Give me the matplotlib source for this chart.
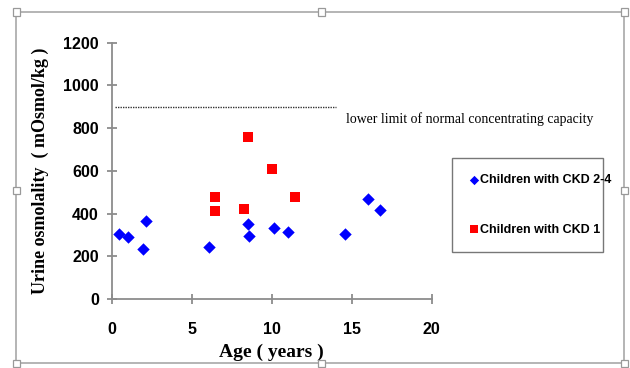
import matplotlib
matplotlib.use("Agg")
import matplotlib.pyplot as plt
from matplotlib.patches import Rectangle

# dati
eta_ckd24 = [0.4, 1.0, 1.95, 2.1, 6.05, 8.5, 8.6, 10.15, 11.0, 14.6, 16.05, 16.8]
osm_ckd24 = [303, 290, 234, 367, 241, 353, 293, 334, 315, 304, 469, 416]
eta_ckd1 = [6.45, 6.45, 8.25, 8.5, 10.0, 11.45]
osm_ckd1 = [475, 413, 422, 759, 606, 475]
limite_normale = 900
limite_x = [0.2, 14.0]
xticks = [0, 5, 10, 15, 20]
yticks = [0, 200, 400, 600, 800, 1000, 1200]

sans = "Liberation Sans"
serif = "Liberation Serif"
grigio = "#8c8c8c"

fig = plt.figure(figsize=(6.3, 3.68), dpi=100)
ax = fig.add_axes([0.178, 0.1875, 0.507, 0.697])

ax.scatter(eta_ckd24, osm_ckd24, marker="D", s=40, color="#0000ff", zorder=3,
           label="Children with CKD 2-4", clip_on=False, linewidths=0)
ax.scatter(eta_ckd1, osm_ckd1, marker="s", s=60, color="#ff0000", zorder=3,
           label="Children with CKD 1", clip_on=False, linewidths=0)

ax.plot(limite_x, [limite_normale] * 2, color="#333333", lw=1.0, linestyle=(0, (1, 0.8)))
ax.text(14.65, 843, "lower limit of normal concentrating capacity", family=serif,
        fontsize=9.9, va="center", ha="left", clip_on=False)

ax.set_xlim(0, 20)
ax.set_ylim(0, 1200)
ax.set_xticks(xticks)
ax.set_yticks(yticks)
for s in ["top", "right"]:
    ax.spines[s].set_visible(False)
for s in ["left", "bottom"]:
    ax.spines[s].set_color(grigio)
    ax.spines[s].set_linewidth(1.3)
ax.tick_params(direction="inout", length=7, width=1.3, color=grigio)
ax.tick_params(axis="x", pad=13)
ax.tick_params(axis="y", pad=6)
for lab in ax.get_xticklabels() + ax.get_yticklabels():
    lab.set_fontfamily(sans)
    lab.set_fontweight("bold")
    lab.set_fontsize(11.5)

ax.set_xlabel("Age ( years )", family=serif, fontweight="bold", fontsize=14, labelpad=5)
ax.set_ylabel("Urine osmolality  ( mOsmol/kg )", family=serif, fontweight="bold",
              fontsize=13, labelpad=10)

leg = ax.legend(loc="upper left", bbox_to_anchor=(452 / 630, 1 - 158 / 368, 151 / 630, 0),
                bbox_transform=fig.transFigure, mode="expand", frameon=True,
                fancybox=False, edgecolor="#555555", handletextpad=0.05,
                handlelength=0.9, labelspacing=3.0, borderpad=1.3, borderaxespad=0,
                markerscale=0.75, prop={"family": sans, "weight": "bold", "size": 9})
leg.get_frame().set_linewidth(1.0)

# cornice dell'immagine con le maniglie
x0, x1, y0, y1 = 16, 624, 12, 363
fig.patches.append(Rectangle((x0 / 630, 1 - y1 / 368), (x1 - x0) / 630, (y1 - y0) / 368,
                             transform=fig.transFigure, fill=False,
                             edgecolor="#a8a8a8", lw=1.2))
maniglie = [(x0, y0), (321, y0), (x1, y0), (x0, 190), (x1, 190),
            (x0, y1), (321, y1), (x1, y1)]
for mx, my in maniglie:
    fig.patches.append(Rectangle(((mx - 3.5) / 630, 1 - (my + 3.5) / 368), 7 / 630, 7 / 368,
                                 transform=fig.transFigure, facecolor="white",
                                 edgecolor="#999999", lw=0.9, zorder=5))

fig.savefig("out.png", dpi=100)
